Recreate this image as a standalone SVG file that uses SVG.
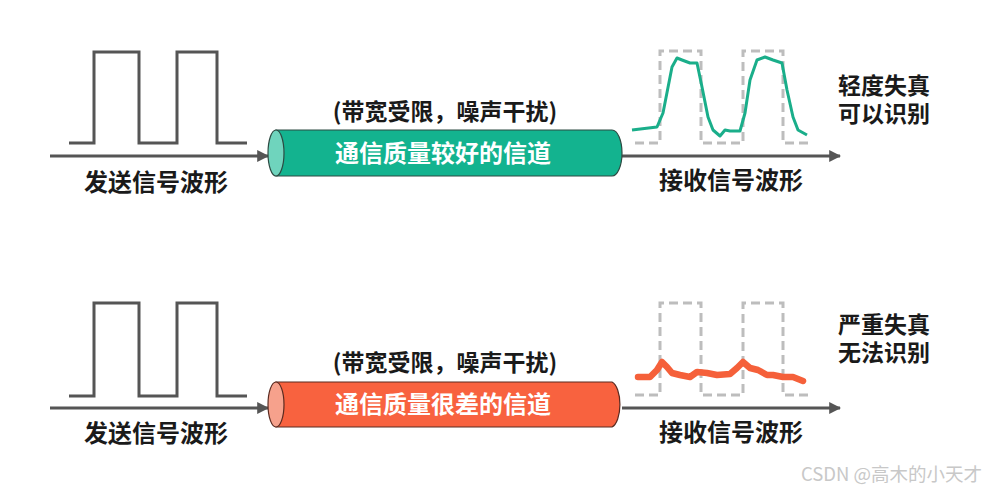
<svg xmlns="http://www.w3.org/2000/svg" width="985" height="492" viewBox="0 0 985 492">
<defs>
<marker id="ah" viewBox="0 0 10 10" refX="9" refY="5" markerWidth="4" markerHeight="4" orient="auto" markerUnits="strokeWidth"><path d="M0,0 L10,5 L0,10 Z" fill="#555"/></marker>
<style>
.t{font-family:"Noto Sans CJK SC","Noto Sans",sans-serif;font-weight:bold;fill:#1a1a1a;}
.w{font-family:"Noto Sans CJK SC","Noto Sans",sans-serif;font-weight:bold;fill:#fff;}
.sq{fill:none;stroke:#555;stroke-width:3;}
.ds{fill:none;stroke:#bdbdbd;stroke-width:3;stroke-dasharray:9 5;}
.ax{fill:none;stroke:#555;stroke-width:3;}
</style>
</defs>
<rect width="985" height="492" fill="#fff"/>
<g id="connectors">
<line class="ax" x1="50" y1="156" x2="268" y2="156" marker-end="url(#ah)"/>
<line class="ax" x1="622" y1="156" x2="840" y2="156" marker-end="url(#ah)"/>
<line class="ax" x1="50" y1="408" x2="268" y2="408" marker-end="url(#ah)"/>
<line class="ax" x1="622" y1="408" x2="840" y2="408" marker-end="url(#ah)"/>
</g>
<g id="send-wave-1">
<polyline class="sq" points="69,143 94,143 94,52 139,52 139,143 177,143 177,52 217,52 217,143 247,143"/>
<text class="t" x="156" y="191" font-size="24" text-anchor="middle">发送信号波形</text>
</g>
<g id="channel-good">
<text class="t" x="445" y="120" font-size="23" text-anchor="middle">(带宽受限，噪声干扰)</text>
<path d="M276,130 L612,130 A10,23 0 0 1 612,176 L276,176 Z" fill="#13b38f" stroke="#2d4a42" stroke-width="1.2"/>
<ellipse cx="276" cy="153" rx="8" ry="23" fill="#6fd4bd" stroke="#2d4a42" stroke-width="1.2"/>
<text class="w" x="443" y="162" font-size="24" text-anchor="middle">通信质量较好的信道</text>
</g>
<g id="recv-wave-1">
<polyline class="ds" points="635,143 660,143 660,51 701,51 701,143 743,143 743,51 783,51 783,143 808,143"/>
<polyline fill="none" stroke="#1aae8a" stroke-width="3" stroke-linejoin="round" points="632,130 657,127 663,113 672,67 677,58 682,60 690,63 697,63 702,87 708,117 713,130 720,136 725,130 730,131 740,131 745,113 750,80 757,60 765,57 773,60 782,63 787,90 793,117 798,130 807,135"/>
<text class="t" x="731" y="189" font-size="24" text-anchor="middle">接收信号波形</text>
</g>
<g id="label-1">
<text class="t" font-size="23"><tspan x="838" y="94">轻度失真</tspan><tspan x="838" y="122">可以识别</tspan></text>
</g>
<g id="send-wave-2">
<polyline class="sq" points="69,396 94,396 94,303 139,303 139,396 177,396 177,303 217,303 217,396 247,396"/>
<text class="t" x="156" y="442" font-size="24" text-anchor="middle">发送信号波形</text>
</g>
<g id="channel-bad">
<text class="t" x="445" y="371" font-size="23" text-anchor="middle">(带宽受限，噪声干扰)</text>
<path d="M276,382 L612,382 A10,23 0 0 1 612,427 L276,427 Z" fill="#f8623f" stroke="#5a2a20" stroke-width="1.2"/>
<ellipse cx="276" cy="404.5" rx="8" ry="22.5" fill="#f6a18c" stroke="#5a2a20" stroke-width="1.2"/>
<text class="w" x="443" y="413" font-size="24" text-anchor="middle">通信质量很差的信道</text>
</g>
<g id="recv-wave-2">
<polyline class="ds" points="635,395 660,395 660,303 701,303 701,395 743,395 743,303 783,303 783,395 808,395"/>
<polyline fill="none" stroke="#f5603a" stroke-width="6.5" stroke-linejoin="round" stroke-linecap="round" points="638,377 650,377 657,370 662,362 667,367 672,373 680,375 690,377 697,372 707,373 717,375 730,374 737,368 743,362 750,368 758,370 767,375 773,375 783,377 793,377 803,381"/>
<text class="t" x="731" y="441" font-size="24" text-anchor="middle">接收信号波形</text>
</g>
<g id="label-2">
<text class="t" font-size="23"><tspan x="838" y="333">严重失真</tspan><tspan x="838" y="361">无法识别</tspan></text>
</g>
<text x="982" y="481" font-family="'Noto Sans CJK SC','Noto Sans',sans-serif" font-size="18.5" fill="#c8c8c8" text-anchor="end">CSDN @高木的小天才</text>
</svg>
